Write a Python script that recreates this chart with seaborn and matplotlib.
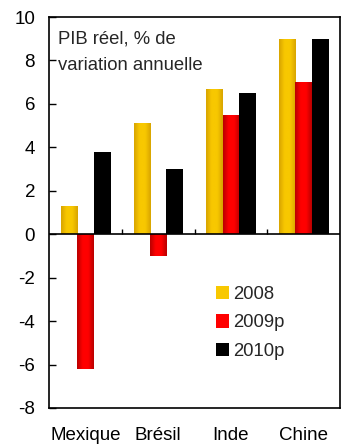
import numpy as np
import pandas as pd
import matplotlib
matplotlib.use("Agg")
import matplotlib.pyplot as plt
from matplotlib.colors import LinearSegmentedColormap
from matplotlib.patches import Patch
import seaborn as sns

# Real GDP growth, annual % change
countries = ["Mexique", "Brésil", "Inde", "Chine"]
years = ["2008", "2009p", "2010p"]
g2008 = [1.3, 5.1, 6.7, 9.0]
g2009 = [-6.2, -1.0, 5.5, 7.0]
g2010 = [3.8, 3.0, 6.5, 9.0]
yticks = [-8, -6, -4, -2, 0, 2, 4, 6, 8, 10]
title_lines = ["PIB réel, % de", "variation annuelle"]

df = pd.DataFrame({
    "pays": countries * 3,
    "annee": [y for y in years for _ in countries],
    "pib": g2008 + g2009 + g2010,
})

base_colors = {"2008": "#F8C800", "2009p": "#FF0000", "2010p": "#000000"}
edge_colors = {"2008": "#D8A400", "2009p": "#B80000", "2010p": "#000000"}

sns.set_style("white")
plt.rcParams["font.family"] = ["Liberation Sans", "DejaVu Sans"]

fig = plt.figure(figsize=(3.42, 4.44), dpi=100)
ax = fig.add_axes([0.1433, 0.0811, 0.8509, 0.8806])

sns.barplot(data=df, x="pays", y="pib", hue="annee", order=countries,
            hue_order=years, palette=base_colors, width=0.675, gap=0,
            saturation=1, linewidth=0, legend=False, ax=ax)

# Cylinder-style shading on each bar
for container, yr in zip(ax.containers, years):
    cmap = LinearSegmentedColormap.from_list(
        yr, [edge_colors[yr], base_colors[yr], base_colors[yr], edge_colors[yr]])
    grad = np.linspace(0, 1, 64).reshape(1, -1)
    for bar in container:
        x0, y0 = bar.get_x(), bar.get_y()
        w, h = bar.get_width(), bar.get_height()
        im = ax.imshow(grad, cmap=cmap, aspect="auto",
                       extent=(x0, x0 + w, min(y0, y0 + h), max(y0, y0 + h)),
                       zorder=bar.get_zorder() + 0.1, interpolation="bicubic")
        im.set_clip_path(bar)

ax.set_xlim(-0.5, len(countries) - 0.5)
ax.set_ylim(yticks[0], yticks[-1])

# Zero line with separator ticks between countries
ax.axhline(0, color="black", linewidth=1.2, zorder=5)
seps = np.arange(len(countries) - 1) + 0.5
ax.vlines(seps, 0, 0.22, color="black", linewidth=1.0, zorder=5)

ax.set_yticks(yticks)
ax.set_yticklabels([str(v) for v in yticks])
ax.set_xticks(range(len(countries)))
ax.set_xticklabels(countries)
ax.tick_params(axis="y", direction="in", length=5, width=1, labelsize=13.5,
               pad=10, left=True, colors="black")
ax.tick_params(axis="x", length=0, labelsize=13.5, pad=14, colors="black")

for s in ax.spines.values():
    s.set_visible(True)
    s.set_color("black")
    s.set_linewidth(1.2)

ax.set_xlabel("")
ax.set_ylabel("")

for line, ypos in zip(title_lines, [0.933, 0.865]):
    ax.text(0.03, ypos, line, transform=ax.transAxes, ha="left",
            va="baseline", fontsize=13.3)

handles = [Patch(facecolor=base_colors[y], edgecolor="none", label=y) for y in years]
ax.legend(handles=handles, loc="upper left", bbox_to_anchor=(0.575, 0.313),
          frameon=False, fontsize=13.3, handlelength=0.7, handleheight=0.75,
          handletextpad=0.2, labelspacing=0.62, borderaxespad=0,
          borderpad=0)

fig.savefig("out.png", dpi=100)
